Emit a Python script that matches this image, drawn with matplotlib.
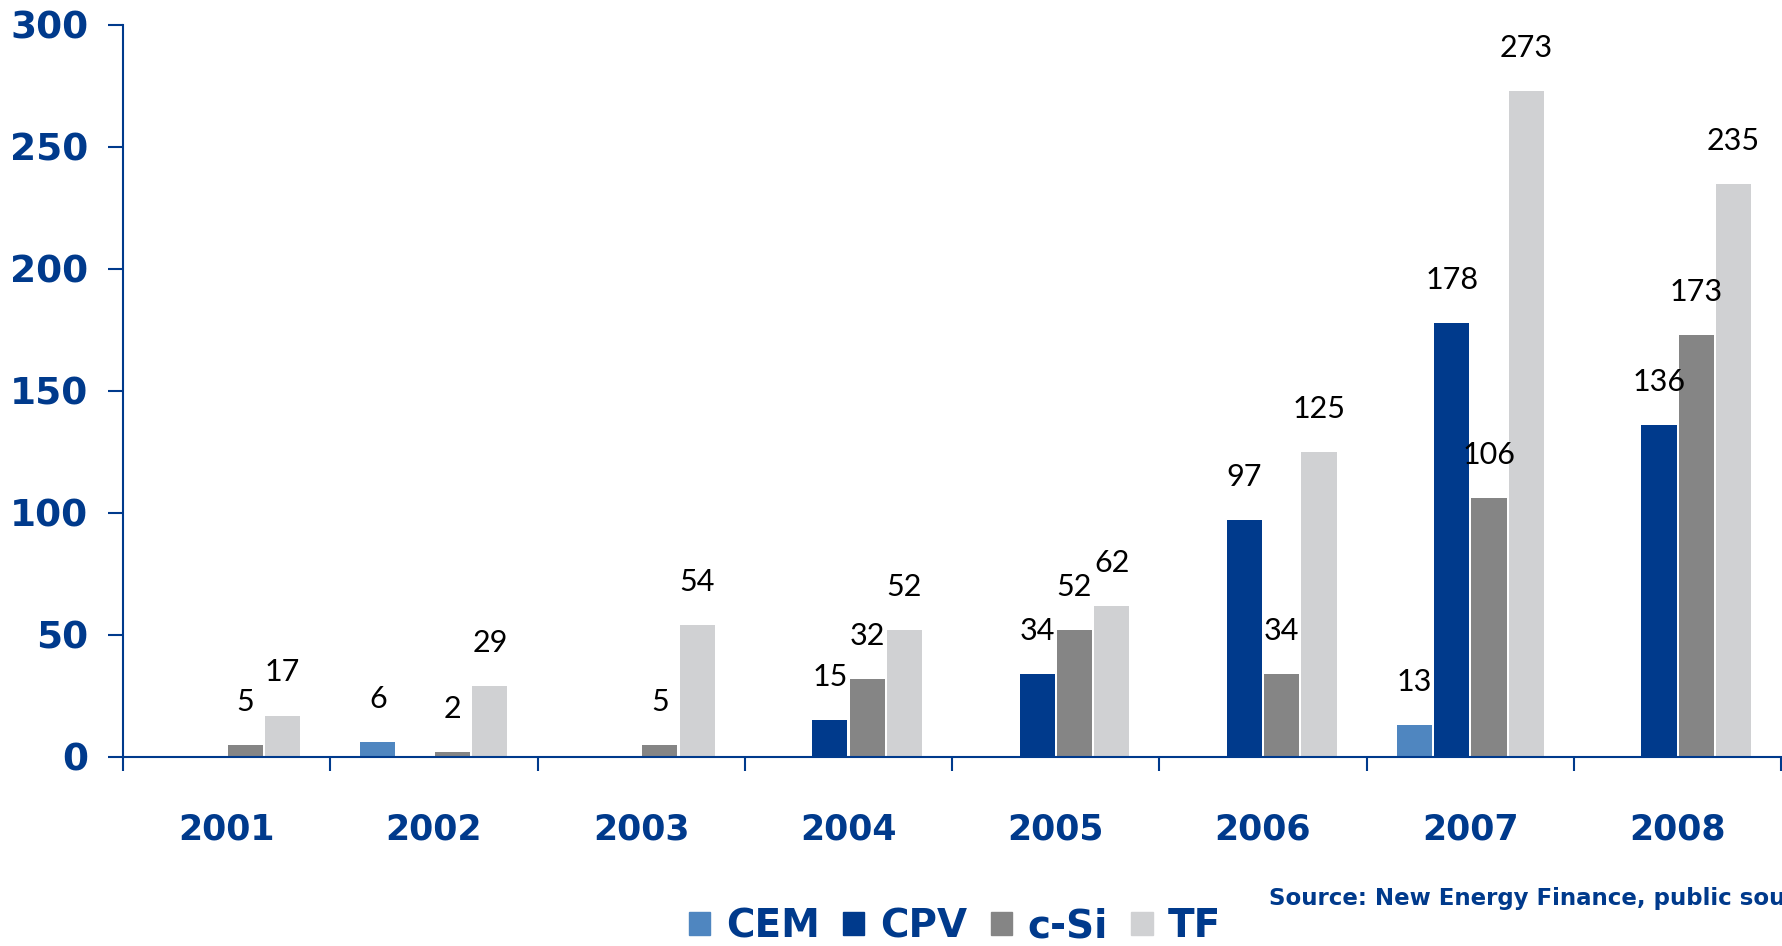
import numpy as np
import matplotlib.pyplot as plt
from matplotlib.patches import Patch

years = ["2001", "2002", "2003", "2004", "2005", "2006", "2007", "2008"]
cem = [0, 6, 0, 0, 0, 0, 13, 0]
cpv = [0, 0, 0, 15, 34, 97, 178, 136]
csi = [5, 2, 5, 32, 52, 34, 106, 173]
tf = [17, 29, 54, 52, 62, 125, 273, 235]

series = [("CEM", cem, "#4f86c0"), ("CPV", cpv, "#003a8c"),
          ("c-Si", csi, "#858585"), ("TF", tf, "#d0d1d3")]
blue = "#003a8c"

fig = plt.figure(figsize=(17.82, 9.46), dpi=100)
ax = fig.add_axes([0.069, 0.1998, 0.9306, 0.7738])

x = np.arange(len(years)) + 0.5
step = 0.18
for i, (name, vals, col) in enumerate(series):
    pos = x + (i - 1.5) * step
    ax.bar(pos, vals, width=step * 0.94, color=col, zorder=2)
    for p, v in zip(pos, vals):
        if v > 0:
            ax.annotate(str(v), (p, v), xytext=(0, 31), textcoords="offset points",
                        ha="center", va="center", fontsize=22, family="Lato",
                        color="black")

ax.set_xlim(0, len(years))
ax.set_ylim(0, 300)
ax.set_yticks(range(0, 301, 50))
ax.set_xticks(np.arange(len(years) + 1))
ax.set_xticklabels([])
ax.set_xticks(x, minor=True)
ax.set_xticklabels(years, minor=True)
ax.tick_params(axis="x", which="minor", length=0, pad=40, labelsize=25, labelcolor=blue)
ax.tick_params(axis="x", which="major", length=10, width=1.5, color=blue, direction="out")
ax.tick_params(axis="y", length=11, width=1.5, color=blue, pad=14, labelsize=27,
               labelcolor=blue)
for lab in ax.get_yticklabels() + ax.get_xticklabels(minor=True):
    lab.set_fontweight("bold")

for s in ["top", "right"]:
    ax.spines[s].set_visible(False)
for s in ["left", "bottom"]:
    ax.spines[s].set_color(blue)
    ax.spines[s].set_linewidth(1.5)

handles = [Patch(color=c, label=n) for n, _, c in series]
fig.legend(handles=handles, loc="center", bbox_to_anchor=(0.536, 0.021), ncol=4,
           frameon=False, handlelength=0.55, handleheight=0.55, handletextpad=0.4,
           columnspacing=0.6, prop={"size": 28, "weight": "bold"},
           labelcolor=blue)

# the reference crops this line at the right edge of the image
fig.text(0.712, 0.05, "Source: New Energy Finance, public sources", fontsize=16.5,
         fontweight="bold", color=blue, ha="left", va="center")

fig.savefig("out.png", dpi=100)
